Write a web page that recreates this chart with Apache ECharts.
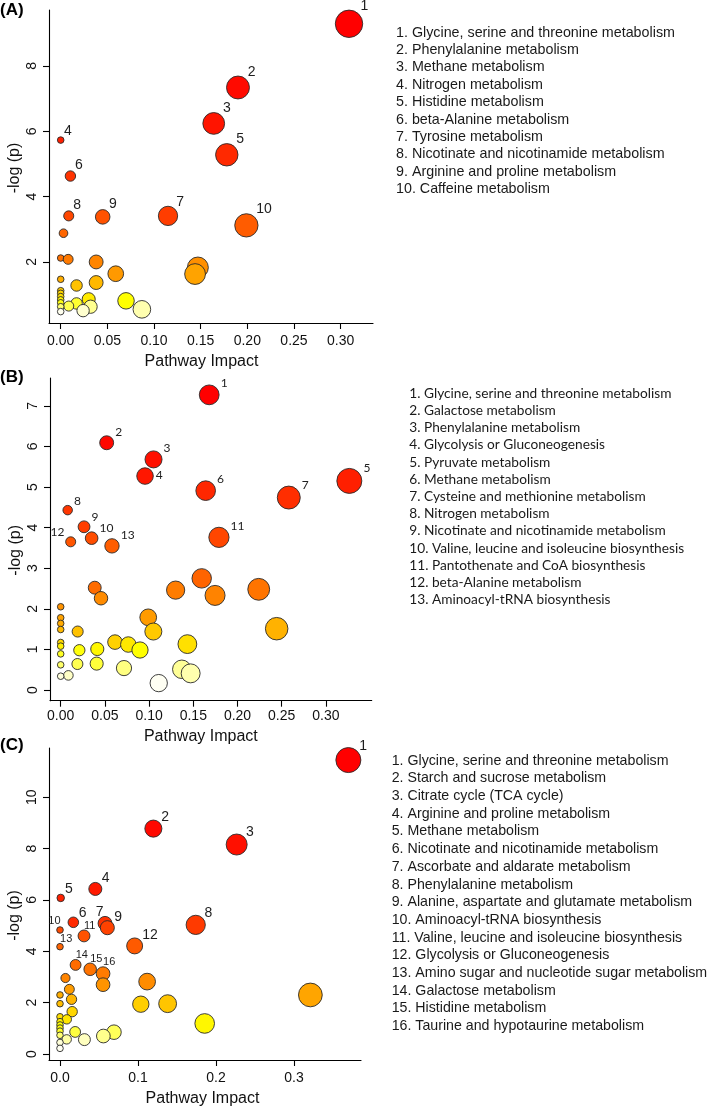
<!DOCTYPE html>
<html><head><meta charset="utf-8">
<script src="https://cdn.jsdelivr.net/npm/echarts@6/dist/echarts.min.js"></script>
<style>html,body{margin:0;padding:0;background:#fff}#c{width:709px;height:1106px}</style>
</head><body><div id="c"></div>
<script>
// ---------------- DATA ----------------
// Panel A
const impactA = [0.309, 0.190, 0.164, 0.000, 0.178, 0.0104, 0.115, 0.0086, 0.045, 0.199,
  0.003, 0.000, 0.008, 0.038, 0.147, 0.059, 0.144, 0.000, 0.038, 0.017,
  0.000, 0.000, 0.000, 0.000, 0.030, 0.070, 0.000, 0.017, 0.0086, 0.000,
  0.032, 0.087, 0.024, 0.000];
const logpA = [9.29, 7.34, 6.24, 5.73, 5.28, 4.63, 3.41, 3.41, 3.38, 3.12,
  2.88, 2.12, 2.08, 2.00, 1.83, 1.64, 1.63, 1.47, 1.37, 1.28,
  1.12, 1.04, 0.94, 0.84, 0.86, 0.81, 0.75, 0.73, 0.65, 0.63,
  0.63, 0.55, 0.51, 0.48];
const labelA = ['1','2','3','4','5','6','7','8','9','10'];
const pathwaysA = [
  "1. Glycine, serine and threonine metabolism",
  "2. Phenylalanine metabolism",
  "3. Methane metabolism",
  "4. Nitrogen metabolism",
  "5. Histidine metabolism",
  "6. beta-Alanine metabolism",
  "7. Tyrosine metabolism",
  "8. Nicotinate and nicotinamide metabolism",
  "9. Arginine and proline metabolism",
  "10. Caffeine metabolism"];
const xTicksA = [0, 0.05, 0.10, 0.15, 0.20, 0.25, 0.30];
const yTicksA = [2, 4, 6, 8];

// Panel B
const impactB = [0.168, 0.052, 0.105, 0.0954, 0.3265, 0.164, 0.258, 0.0079, 0.0264, 0.035, 0.179, 0.0113, 0.058,
  0.1595, 0.0385, 0.224, 0.130, 0.1746, 0.0456, 0.000, 0.099, 0.000, 0.000,
  0.2443, 0.000, 0.0192, 0.1048, 0.0614, 0.000, 0.1433, 0.0765, 0.000, 0.0414,
  0.0211, 0.0897, 0.000, 0.0407, 0.0189, 0.000, 0.0716, 0.137, 0.147, 0.0087,
  0.000, 0.1109];
const logpB = [7.27, 6.09, 5.68, 5.27, 5.15, 4.91, 4.74, 4.43, 4.02, 3.74, 3.76, 3.65, 3.55,
  2.75, 2.52, 2.48, 2.46, 2.33, 2.26, 2.05, 1.79, 1.78, 1.64,
  1.51, 1.49, 1.44, 1.44, 1.18, 1.17, 1.13, 1.12, 1.08, 1.01,
  0.98, 0.985, 0.89, 0.65, 0.64, 0.62, 0.54, 0.51, 0.41, 0.36,
  0.34, 0.17];
const labelB = ['1','2','3','4','5','6','7','8','9','10','11','12','13'];
const pathwaysB = [
  "1. Glycine, serine and threonine metabolism",
  "2. Galactose metabolism",
  "3. Phenylalanine metabolism",
  "4. Glycolysis or Gluconeogenesis",
  "5. Pyruvate metabolism",
  "6. Methane metabolism",
  "7. Cysteine and methionine metabolism",
  "8. Nitrogen metabolism",
  "9. Nicotinate and nicotinamide metabolism",
  "10. Valine, leucine and isoleucine biosynthesis",
  "11. Pantothenate and CoA biosynthesis",
  "12. beta-Alanine metabolism",
  "13. Aminoacyl-tRNA biosynthesis"];
const xTicksB = [0, 0.05, 0.10, 0.15, 0.20, 0.25, 0.30];
const yTicksB = [0, 1, 2, 3, 4, 5, 6, 7];

// Panel C
const impactC = [0.3697, 0.1197, 0.2265, 0.0453, 0.0009, 0.0171, 0.0577, 0.174, 0.0607, 0.000, 0.0308, 0.0957, 0.000, 0.0200, 0.0387, 0.0552,
  0.0070, 0.1117, 0.0552, 0.0120, 0.3210, 0.000, 0.0148, 0.000, 0.1380, 0.1036,
  0.0156, 0.000, 0.0087, 0.000, 0.1855, 0.000, 0.000, 0.000, 0.0692, 0.0194,
  0.000, 0.0556, 0.0086, 0.0313, 0.000, 0.000];
const logpC = [11.45, 8.78, 8.16, 6.43, 6.08, 5.13, 5.09, 5.03, 4.92, 4.83, 4.60, 4.21, 4.18, 3.47, 3.30, 3.13,
  2.96, 2.82, 2.70, 2.52, 2.30, 2.30, 2.13, 1.96, 1.96, 1.94,
  1.65, 1.45, 1.35, 1.26, 1.19, 1.13, 1.01, 0.89, 0.85, 0.86,
  0.73, 0.70, 0.57, 0.56, 0.45, 0.22];
const labelC = ['1','2','3','4','5','6','7','8','9','10','11','12','13','14','15','16'];
const pathwaysC = [
  "1. Glycine, serine and threonine metabolism",
  "2. Starch and sucrose metabolism",
  "3. Citrate cycle (TCA cycle)",
  "4. Arginine and proline metabolism",
  "5. Methane metabolism",
  "6. Nicotinate and nicotinamide metabolism",
  "7. Ascorbate and aldarate metabolism",
  "8. Phenylalanine metabolism",
  "9. Alanine, aspartate and glutamate metabolism",
  "10. Aminoacyl-tRNA biosynthesis",
  "11. Valine, leucine and isoleucine biosynthesis",
  "12. Glycolysis or Gluconeogenesis",
  "13. Amino sugar and nucleotide sugar metabolism",
  "14. Galactose metabolism",
  "15. Histidine metabolism",
  "16. Taurine and hypotaurine metabolism"];
const xTicksC = [0, 0.1, 0.2, 0.3];
const yTicksC = [0, 2, 4, 6, 8, 10];

// ---------------- STYLE / LAYOUT ----------------
const ARIAL = '"Liberation Sans", Arial, sans-serif';
const MYRIAD = 'Lato, "Liberation Sans", sans-serif';

const panels = [
  { letter: '(A)', letterTop: 2, impact: impactA, logp: logpA, labels: labelA,
    grid: {left: 49, top: 10, width: 324, height: 313},
    xMin: -0.01254, xMax: 0.3347, yMin: 0.1316, yMax: 9.712,
    xTicks: xTicksA, xDec: 2, yTicks: yTicksA, xLabelMargin: 11, xNameGap: 31,
    rMin: 3.3, rMax: 13.7,
    labelFont: ARIAL, labelSize: 14, kx: 0.8, bx: 1, ky: 0.8, by: 6, place: {},
    xNamePad: [0, 19, 0, 0], yNamePad: [0, 3, 0, 0],
    legend: pathwaysA, legendX: 396, legendY: 32.7, legendLH: 17.4, legendFont: ARIAL, legendSize: 14.3 },
  { letter: '(B)', letterTop: 369, impact: impactB, logp: logpB, labels: labelB,
    grid: {left: 50, top: 378, width: 321.7, height: 322.7},
    xMin: -0.0121, xMax: 0.3518, yMin: -0.2635, yMax: 7.685,
    xTicks: xTicksB, xDec: 2, yTicks: yTicksB, xLabelMargin: 8, xNameGap: 28,
    rMin: 3.3, rMax: 12.5,
    labelFont: MYRIAD, labelSize: 12, kx: 1, bx: 2, ky: 0.4, by: 7,
    place: {'4': 'right', '12': 'left'},
    xNamePad: [0, 20, 0, 0], yNamePad: [0, 22, 0, 0],
    legend: pathwaysB, legendX: 409.3, legendY: 393.3, legendLH: 17.2, legendFont: MYRIAD, legendSize: 13.7 },
  { letter: '(C)', letterTop: 737, impact: impactC, logp: logpC, labels: labelC,
    grid: {left: 49, top: 748, width: 312, height: 312},
    xMin: -0.0141, xMax: 0.3859, yMin: -0.2337, yMax: 11.92,
    xTicks: xTicksC, xDec: 1, yTicks: yTicksC, xLabelMargin: 11, xNameGap: 31,
    rMin: 3.3, rMax: 12.5,
    labelFont: ARIAL, labelSize: 14, kx: 0.75, bx: 2, ky: 0.6, by: 6,
    place: {'10': 'smallLeft', '11': 'small', '13': 'small', '14': 'small', '15': 'small', '16': 'small', '7': 'above'},
    smallSize: 11,
    xNamePad: [0, 5, 0, 0], yNamePad: [0, 23, 0, 0],
    legend: pathwaysC, legendX: 391.7, legendY: 760.7, legendLH: 17.7, legendFont: ARIAL, legendSize: 14.2 }
];

// R heat.colors(n)
function hsv(h, s, v) {
  let i = Math.floor(h * 6); const f = h * 6 - i;
  const p = v * (1 - s), q = v * (1 - f * s), t = v * (1 - (1 - f) * s);
  let r, g, b;
  switch (((i % 6) + 6) % 6) {
    case 0: r = v; g = t; b = p; break;
    case 1: r = q; g = v; b = p; break;
    case 2: r = p; g = v; b = t; break;
    case 3: r = p; g = q; b = v; break;
    case 4: r = t; g = p; b = v; break;
    default: r = v; g = p; b = q;
  }
  return 'rgb(' + Math.round(r * 255) + ',' + Math.round(g * 255) + ',' + Math.round(b * 255) + ')';
}
function heatColors(n) {
  const j = Math.floor(n / 4), i = n - j, out = [];
  for (let k = 0; k < i; k++) out.push(hsv(i > 1 ? (k / (i - 1)) / 6 : 0, 1, 1));
  const s0 = 1 - 1 / (2 * j), s1 = 1 / (2 * j);
  for (let k = 0; k < j; k++) out.push(hsv(1 / 6, j > 1 ? s0 + (s1 - s0) * k / (j - 1) : s0, 1));
  return out;
}

function labelFor(cfg, txt, r) {
  const mode = cfg.place[txt] || 'default';
  let dx, dy, align = 'left', fs = cfg.labelSize;
  if (mode === 'default') { dx = cfg.kx * r + cfg.bx; dy = -(cfg.ky * r + cfg.by); }
  else if (mode === 'small') { dx = 0.5; dy = -(r + 4); fs = cfg.smallSize; }
  else if (mode === 'smallLeft') { dx = 1; dy = -(r + 5); align = 'right'; fs = cfg.smallSize; }
  else if (mode === 'right') { dx = r + 3; dy = 0; }
  else if (mode === 'left') { dx = -(0.8 * r + 1.7); dy = -(0.4 * r + 7); align = 'right'; }
  else { dx = -5; dy = -(r + 4); align = 'center'; }
  return { show: true, formatter: txt, position: [r + dx, r + dy], align: align, verticalAlign: 'middle',
    fontSize: fs, fontFamily: cfg.labelFont, color: '#1e1e1e' };
}

const grids = [], xAxes = [], yAxes = [], series = [], graphics = [];
panels.forEach((cfg, pi) => {
  grids.push(Object.assign({ outerBoundsMode: 'none', containLabel: false }, cfg.grid));
  const axisLineStyle = { color: '#000', width: 1.1 };
  xAxes.push({
    gridIndex: pi, type: 'value', min: cfg.xMin, max: cfg.xMax,
    splitLine: { show: false },
    axisLine: { show: true, onZero: false, lineStyle: axisLineStyle },
    axisTick: { show: true, length: 6, lineStyle: axisLineStyle, customValues: cfg.xTicks },
    axisLabel: { customValues: cfg.xTicks, formatter: v => v.toFixed(cfg.xDec), color: '#111',
      fontSize: 14, fontFamily: ARIAL, margin: cfg.xLabelMargin },
    name: 'Pathway Impact', nameLocation: 'middle', nameGap: cfg.xNameGap,
    nameTextStyle: { fontSize: 16, fontFamily: ARIAL, color: '#111', padding: cfg.xNamePad }
  });
  yAxes.push({
    gridIndex: pi, type: 'value', min: cfg.yMin, max: cfg.yMax,
    splitLine: { show: false },
    axisLine: { show: true, onZero: false, lineStyle: axisLineStyle },
    axisTick: { show: true, length: 6, lineStyle: axisLineStyle, customValues: cfg.yTicks },
    axisLabel: { customValues: cfg.yTicks, formatter: v => String(Math.round(v)), rotate: 90, color: '#111',
      fontSize: 14, fontFamily: ARIAL, margin: 10 },
    name: '-log (p)', nameLocation: 'middle', nameGap: 26,
    nameTextStyle: { fontSize: 16, fontFamily: ARIAL, color: '#111', padding: cfg.yNamePad }
  });

  const n = cfg.impact.length;
  const order = Array.from({ length: n }, (_, k) => k).sort((a, b) => (cfg.logp[b] - cfg.logp[a]) || (a - b));
  const cols = heatColors(n);
  const xmax = Math.max.apply(null, cfg.impact);
  const data = order.map((k, rank) => {
    const r = cfg.rMin + (cfg.rMax - cfg.rMin) * Math.sqrt(cfg.impact[k] / xmax);
    const item = { value: [cfg.impact[k], cfg.logp[k]], symbolSize: 2 * r, itemStyle: { color: cols[rank] } };
    if (cfg.labels[k]) item.label = labelFor(cfg, cfg.labels[k], r);
    return item;
  });
  series.push({
    type: 'scatter', xAxisIndex: pi, yAxisIndex: pi, data: data, symbol: 'circle',
    itemStyle: { borderColor: '#2a2a2a', borderWidth: 0.9, opacity: 1 },
    label: { show: false }, emphasis: { disabled: true }, silent: true
  });

  graphics.push({ type: 'text', left: 0, top: cfg.letterTop,
    style: { text: cfg.letter, font: 'bold 17px ' + ARIAL, fill: '#000' } });
  graphics.push({ type: 'text', left: cfg.legendX, top: cfg.legendY - cfg.legendLH / 2,
    style: { text: cfg.legend.join('\n'), fontSize: cfg.legendSize, fontFamily: cfg.legendFont,
      lineHeight: cfg.legendLH, fill: '#1a1a1a' } });
});

const chart = echarts.init(document.getElementById('c'), null, { renderer: 'canvas' });
chart.setOption({
  backgroundColor: '#fff', animation: false,
  grid: grids, xAxis: xAxes, yAxis: yAxes, series: series, graphic: graphics
});
</script></body></html>
